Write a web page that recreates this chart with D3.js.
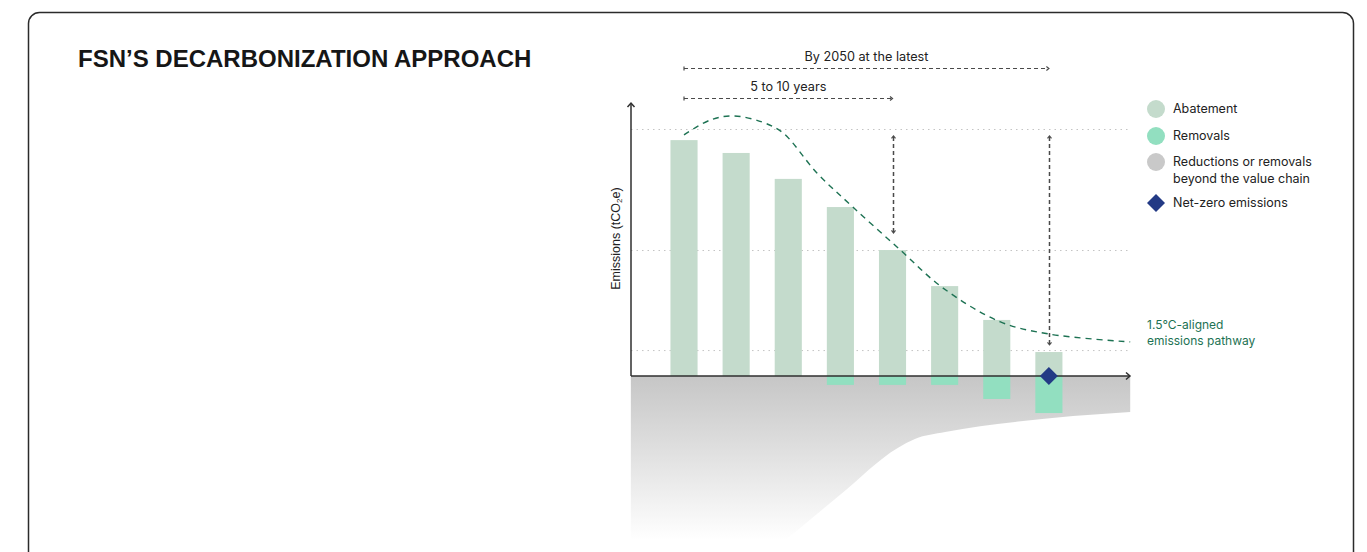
<!DOCTYPE html>
<html>
<head>
<meta charset="utf-8">
<script src="https://cdn.jsdelivr.net/npm/d3@7"></script>
<style>
  html, body { margin: 0; padding: 0; background: #fff; }
  svg { display: block; }
</style>
</head>
<body>
<svg id="chart" width="1367" height="552"></svg>
<script>
// Reporting periods (the axis carries no period labels)
const periods = ["P1", "P2", "P3", "P4", "P5", "P6", "P7", "P8"];
// Remaining emissions after abatement, indexed to the base year (= 100)
const abatement = [95.5, 90.3, 79.8, 68.4, 51.0, 36.4, 22.7, 9.7];
// Removals per period, shown below the axis
const removals = [0, 0, 0, -3.6, -3.6, -3.6, -9.3, -15.0];
// Dotted reference lines
const gridValues = [100, 51, 10.5];
// 1.5°C-aligned emissions pathway, sampled along the period axis
const pathwayT = [0, 0.5, 0.94, 1.5, 1.9, 2.55, 3.24, 4.15, 4.97, 6.07, 7.0, 8.56];
const pathwayV = [97.6, 103.6, 105.3, 102.8, 98.4, 82.2, 68.4, 51.0, 35.6, 21.9, 17.0, 13.8];
// Lower edge of the "beyond the value chain" band
const beyondT = [-1.02, 0.56, 1.65, 2.99, 4.10, 4.43, 5.01, 6.35, 8.56];
const beyondV = [-90.7, -90.7, -71.7, -48.2, -29.1, -25.5, -22.7, -18.6, -14.6];
// Reduction targets: [period index, from value, to value]
const targetIdx = [4, 7];
const targetFrom = [97.2, 97.2];
const targetTo = [57.9, 12.6];
// Timeline annotations
const spanLabels = ["By 2050 at the latest", "5 to 10 years"];
const spanEnd = [7, 4];
// Net-zero point
const netZeroIdx = 7;
// Legend
const legendLabels = [["Abatement"], ["Removals"], ["Reductions or removals", "beyond the value chain"], ["Net-zero emissions"]];
const legendColors = ["#c4dbcc", "#92dfc0", "#c9c9c9", "#233a85"];

const COL_ABATE = legendColors[0], COL_REMOVE = legendColors[1], COL_NZ = legendColors[3];
const COL_PATH = "#1d7253";
const FONT = "Inter, 'Liberation Sans', sans-serif";

const svg = d3.select("#chart");

// Card frame
svg.append("rect")
  .attr("x", 28.5).attr("y", 12.5).attr("width", 1325).attr("height", 620)
  .attr("rx", 11).attr("fill", "#fff").attr("stroke", "#2b2b2b").attr("stroke-width", 1.5);

svg.append("text")
  .attr("x", 78).attr("y", 67)
  .attr("font-family", "'Liberation Sans', Arial, sans-serif")
  .attr("font-weight", 700).attr("font-size", 24).attr("fill", "#161616")
  .text("FSN\u2019S DECARBONIZATION APPROACH");

// Scales
const t = d3.scaleLinear().domain([-1.017, 8.556]).range([631, 1130]);
const x = d3.scaleBand().domain(periods)
  .range([t(-0.5), t(7.5)]).paddingInner(0.48).paddingOuter(0.24);
const y = d3.scaleLinear().domain([0, 100]).range([376, 129]);

const defs = svg.append("defs");
const grad = defs.append("linearGradient").attr("id", "beyondFade")
  .attr("gradientUnits", "userSpaceOnUse")
  .attr("x1", 0).attr("x2", 0).attr("y1", y(0)).attr("y2", 540);
grad.append("stop").attr("offset", 0).attr("stop-color", "#c6c6c6");
grad.append("stop").attr("offset", 0.45).attr("stop-color", "#dfdfdf");
grad.append("stop").attr("offset", 1).attr("stop-color", "#ffffff");

// Reductions / removals beyond the value chain
const beyond = beyondT.map((d, i) => [d, beyondV[i]]);
const area = d3.area()
  .x(d => t(d[0])).y0(y(0)).y1(d => y(d[1]))
  .curve(d3.curveMonotoneX);
svg.append("path").datum(beyond)
  .attr("d", area).attr("fill", "url(#beyondFade)");

// Dotted gridlines
const grid = svg.append("g").attr("transform", `translate(${t.range()[0]},0)`)
  .call(d3.axisLeft(y).tickValues(gridValues).tickFormat("")
    .tickSize(-(t.range()[1] - t.range()[0])));
grid.select(".domain").remove();
grid.selectAll(".tick line")
  .attr("stroke", "#c4c4c4").attr("stroke-width", 1).attr("stroke-dasharray", "1.5,4");

// Bars
svg.append("g").selectAll("rect").data(periods).join("rect")
  .attr("x", d => x(d)).attr("width", x.bandwidth())
  .attr("y", (d, i) => y(abatement[i])).attr("height", (d, i) => y(0) - y(abatement[i]))
  .attr("fill", COL_ABATE);
svg.append("g").selectAll("rect").data(periods.filter((d, i) => removals[i] < 0)).join("rect")
  .attr("x", d => x(d)).attr("width", x.bandwidth())
  .attr("y", y(0)).attr("height", d => y(removals[periods.indexOf(d)]) - y(0))
  .attr("fill", COL_REMOVE);

// Pathway
const pathway = pathwayT.map((d, i) => [d, pathwayV[i]]);
svg.append("path").datum(pathway)
  .attr("d", d3.line().x(d => t(d[0])).y(d => y(d[1])).curve(d3.curveCatmullRom.alpha(0.5)))
  .attr("fill", "none").attr("stroke", COL_PATH).attr("stroke-width", 1.4)
  .attr("stroke-dasharray", "6,5");

svg.append("text").attr("font-family", FONT).attr("font-size", 12).attr("fill", COL_PATH)
  .selectAll("tspan").data(["1.5\u00B0C-aligned", "emissions pathway"]).join("tspan")
  .attr("x", 1147).attr("y", (d, i) => 329 + i * 15.5).text(d => d);

// Annotation arrows
const ARROW = "#4a4a4a";
const ann = svg.append("g").attr("stroke", ARROW).attr("fill", "none").attr("stroke-width", 1.2);
targetIdx.forEach((p, i) => {
  const cx = Math.round(t(p)) + 0.5, y1 = y(targetFrom[i]), y2 = y(targetTo[i]);
  ann.append("line").attr("x1", cx).attr("x2", cx).attr("y1", y1 + 1).attr("y2", y2 - 1)
    .attr("stroke-dasharray", "4,3").attr("stroke-width", 1.5);
  ann.append("path").attr("d", `M${cx - 2},${y1 + 2.5}L${cx},${y1}L${cx + 2},${y1 + 2.5}`);
  ann.append("path").attr("d", `M${cx - 2},${y2 - 2.5}L${cx},${y2}L${cx + 2},${y2 - 2.5}`);
});
const spanY = [68, 98];
spanLabels.forEach((lab, i) => {
  const x0 = t(0), x1 = t(spanEnd[i]), yy = spanY[i] + 0.5;
  ann.append("line").attr("x1", x0).attr("x2", x1 - 1).attr("y1", yy).attr("y2", yy)
    .attr("stroke-dasharray", "4,3");
  ann.append("line").attr("x1", x0).attr("x2", x0).attr("y1", yy - 2).attr("y2", yy + 2);
  ann.append("path").attr("d", `M${x1 - 2.5},${yy - 2}L${x1},${yy}L${x1 - 2.5},${yy + 2}`);
  svg.append("text").attr("x", (x0 + x1) / 2).attr("y", spanY[i] - 7)
    .attr("text-anchor", "middle").attr("font-family", FONT).attr("font-size", 12.7)
    .attr("fill", "#222").text(lab);
});

// Axes
const ax = svg.append("g").attr("stroke", "#2f2f2f").attr("stroke-width", 1.5).attr("fill", "none");
const x0 = t.range()[0], x1 = t.range()[1], yTop = y(110.5);
ax.append("line").attr("x1", x0).attr("x2", x0).attr("y1", y(0)).attr("y2", yTop);
ax.append("path").attr("d", `M${x0 - 3.5},${yTop + 4}L${x0},${yTop}L${x0 + 3.5},${yTop + 4}`);
ax.append("line").attr("x1", x0).attr("x2", x1).attr("y1", y(0)).attr("y2", y(0));
ax.append("path").attr("d", `M${x1 - 4},${y(0) - 3.5}L${x1},${y(0)}L${x1 - 4},${y(0) + 3.5}`);

const yl = svg.append("text")
  .attr("transform", `translate(619.5,${(y(0) + yTop) / 2 - 1}) rotate(-90)`)
  .attr("text-anchor", "middle").attr("font-family", "'Liberation Sans', Arial, sans-serif")
  .attr("font-size", 12.5).attr("fill", "#222");
yl.append("tspan").text("Emissions (tCO");
yl.append("tspan").attr("font-size", 8).attr("dy", 2).text("2");
yl.append("tspan").attr("dy", -2).text("e)");

// Net-zero marker
svg.append("path")
  .attr("d", d3.symbol(d3.symbolSquare, 162)())
  .attr("transform", `translate(${t(netZeroIdx)},${y(0)}) rotate(45)`)
  .attr("fill", COL_NZ);

// Legend
const lg = svg.append("g").attr("transform", "translate(1156,0)");
const legendY = [109, 136, 162, 203];
legendLabels.forEach((lines, i) => {
  if (i === 3) {
    lg.append("path").attr("d", d3.symbol(d3.symbolSquare, 162)())
      .attr("transform", `translate(0,${legendY[i]}) rotate(45)`).attr("fill", legendColors[i]);
  } else {
    lg.append("circle").attr("cy", legendY[i]).attr("r", 9).attr("fill", legendColors[i]);
  }
  lg.append("text").attr("font-family", FONT).attr("font-size", 12.5).attr("fill", "#222")
    .selectAll("tspan").data(lines).join("tspan")
    .attr("x", 17).attr("y", (d, j) => legendY[i] + 4 + j * 17).text(d => d);
});
</script>
</body>
</html>
